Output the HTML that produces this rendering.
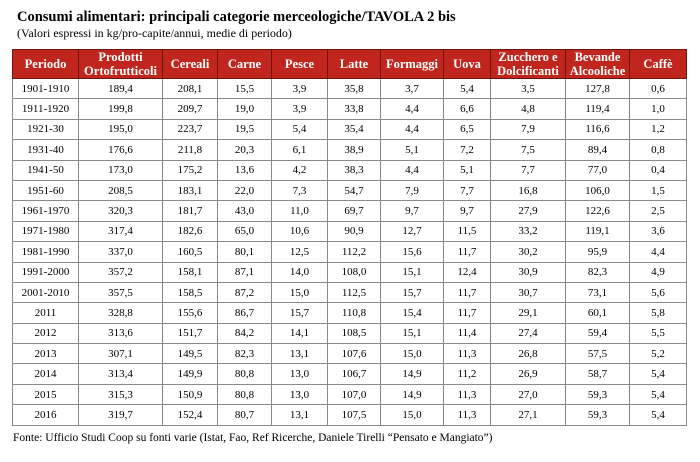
<!DOCTYPE html>
<html><head><meta charset="utf-8"><style>
body{margin:0;width:700px;height:462px;background:#fff;font-family:"Liberation Serif",serif;color:#000;position:relative;overflow:hidden}
.t{position:absolute;left:17px;top:9px;font-size:14.5px;font-weight:bold;white-space:nowrap}
.s{position:absolute;left:17px;top:26px;font-size:12px;white-space:nowrap}
.f{position:absolute;left:13px;top:432px;font-size:11.5px;white-space:nowrap}
table{position:absolute;left:12px;top:49px;border-collapse:collapse;table-layout:fixed;width:674px}
td,th{border:1px solid #8a8a8a;text-align:center;padding:0;font-size:11px}
th{background:#c0261d;color:#fff;font-weight:bold;font-size:12.5px;line-height:14px;height:27px;border-color:#6d1510}
td{height:19.4px}
</style></head><body>
<div class="t">Consumi alimentari: principali categorie merceologiche/TAVOLA 2 bis</div>
<div class="s">(Valori espressi in kg/pro-capite/annui, medie di periodo)</div>
<table>
<colgroup><col style="width:66px"><col style="width:84px"><col style="width:55px"><col style="width:54px"><col style="width:56px"><col style="width:53px"><col style="width:63px"><col style="width:47px"><col style="width:75px"><col style="width:64px"><col style="width:57px"></colgroup>
<tr><th>Periodo</th><th>Prodotti<br>Ortofrutticoli</th><th>Cereali</th><th>Carne</th><th>Pesce</th><th>Latte</th><th>Formaggi</th><th>Uova</th><th>Zucchero e<br>Dolcificanti</th><th>Bevande<br>Alcooliche</th><th>Caffè</th></tr>
<tr><td>1901-1910</td><td>189,4</td><td>208,1</td><td>15,5</td><td>3,9</td><td>35,8</td><td>3,7</td><td>5,4</td><td>3,5</td><td>127,8</td><td>0,6</td></tr>
<tr><td>1911-1920</td><td>199,8</td><td>209,7</td><td>19,0</td><td>3,9</td><td>33,8</td><td>4,4</td><td>6,6</td><td>4,8</td><td>119,4</td><td>1,0</td></tr>
<tr><td>1921-30</td><td>195,0</td><td>223,7</td><td>19,5</td><td>5,4</td><td>35,4</td><td>4,4</td><td>6,5</td><td>7,9</td><td>116,6</td><td>1,2</td></tr>
<tr><td>1931-40</td><td>176,6</td><td>211,8</td><td>20,3</td><td>6,1</td><td>38,9</td><td>5,1</td><td>7,2</td><td>7,5</td><td>89,4</td><td>0,8</td></tr>
<tr><td>1941-50</td><td>173,0</td><td>175,2</td><td>13,6</td><td>4,2</td><td>38,3</td><td>4,4</td><td>5,1</td><td>7,7</td><td>77,0</td><td>0,4</td></tr>
<tr><td>1951-60</td><td>208,5</td><td>183,1</td><td>22,0</td><td>7,3</td><td>54,7</td><td>7,9</td><td>7,7</td><td>16,8</td><td>106,0</td><td>1,5</td></tr>
<tr><td>1961-1970</td><td>320,3</td><td>181,7</td><td>43,0</td><td>11,0</td><td>69,7</td><td>9,7</td><td>9,7</td><td>27,9</td><td>122,6</td><td>2,5</td></tr>
<tr><td>1971-1980</td><td>317,4</td><td>182,6</td><td>65,0</td><td>10,6</td><td>90,9</td><td>12,7</td><td>11,5</td><td>33,2</td><td>119,1</td><td>3,6</td></tr>
<tr><td>1981-1990</td><td>337,0</td><td>160,5</td><td>80,1</td><td>12,5</td><td>112,2</td><td>15,6</td><td>11,7</td><td>30,2</td><td>95,9</td><td>4,4</td></tr>
<tr><td>1991-2000</td><td>357,2</td><td>158,1</td><td>87,1</td><td>14,0</td><td>108,0</td><td>15,1</td><td>12,4</td><td>30,9</td><td>82,3</td><td>4,9</td></tr>
<tr><td>2001-2010</td><td>357,5</td><td>158,5</td><td>87,2</td><td>15,0</td><td>112,5</td><td>15,7</td><td>11,7</td><td>30,7</td><td>73,1</td><td>5,6</td></tr>
<tr><td>2011</td><td>328,8</td><td>155,6</td><td>86,7</td><td>15,7</td><td>110,8</td><td>15,4</td><td>11,7</td><td>29,1</td><td>60,1</td><td>5,8</td></tr>
<tr><td>2012</td><td>313,6</td><td>151,7</td><td>84,2</td><td>14,1</td><td>108,5</td><td>15,1</td><td>11,4</td><td>27,4</td><td>59,4</td><td>5,5</td></tr>
<tr><td>2013</td><td>307,1</td><td>149,5</td><td>82,3</td><td>13,1</td><td>107,6</td><td>15,0</td><td>11,3</td><td>26,8</td><td>57,5</td><td>5,2</td></tr>
<tr><td>2014</td><td>313,4</td><td>149,9</td><td>80,8</td><td>13,0</td><td>106,7</td><td>14,9</td><td>11,2</td><td>26,9</td><td>58,7</td><td>5,4</td></tr>
<tr><td>2015</td><td>315,3</td><td>150,9</td><td>80,8</td><td>13,0</td><td>107,0</td><td>14,9</td><td>11,3</td><td>27,0</td><td>59,3</td><td>5,4</td></tr>
<tr><td>2016</td><td>319,7</td><td>152,4</td><td>80,7</td><td>13,1</td><td>107,5</td><td>15,0</td><td>11,3</td><td>27,1</td><td>59,3</td><td>5,4</td></tr>
</table>
<div class="f">Fonte: Ufficio Studi Coop su fonti varie (Istat, Fao, Ref Ricerche, Daniele Tirelli “Pensato e Mangiato”)</div>
</body></html>
